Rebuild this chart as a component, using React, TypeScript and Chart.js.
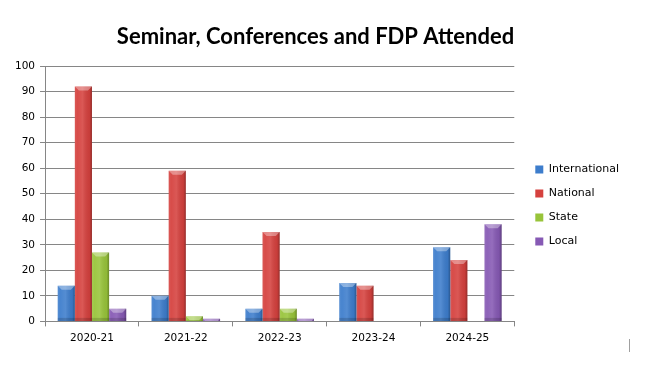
import React, { useEffect, useRef } from "react";
import { Chart, registerables } from "chart.js";

Chart.register(...registerables);

const categories = ["2020-21", "2021-22", "2022-23", "2023-24", "2024-25"];
const seriesNames = ["International", "National", "State", "Local"];
const international = [14, 10, 5, 15, 29];
const national = [92, 59, 35, 14, 24];
const state = [27, 2, 5, 0, 0];
const local = [5, 1, 1, 0, 38];
const seriesColors = ["#3D7DCC", "#D5413E", "#98C43A", "#8659B4"];
const yTicks = [0, 10, 20, 30, 40, 50, 60, 70, 80, 90, 100];

const bevelPlugin = {
  id: "bevel",
  afterDatasetsDraw(chart: any) {
    const ctx = chart.ctx;
    chart.data.datasets.forEach((_ds: any, i: number) => {
      const meta = chart.getDatasetMeta(i);
      meta.data.forEach((bar: any) => {
        const { x, y, base, width } = bar.getProps(["x", "y", "base", "width"], true);
        const h = base - y;
        if (h <= 0.5) return;
        const l = x - width / 2;
        ctx.save();
        const g = ctx.createLinearGradient(l, 0, l + width, 0);
        g.addColorStop(0, "rgba(255,255,255,0.12)");
        g.addColorStop(0.15, "rgba(255,255,255,0.06)");
        g.addColorStop(0.45, "rgba(255,255,255,0.12)");
        g.addColorStop(0.85, "rgba(0,0,0,0.06)");
        g.addColorStop(1, "rgba(0,0,0,0.3)");
        ctx.fillStyle = g;
        ctx.fillRect(l, y, width, h);
        const cap = Math.min(4, h);
        ctx.fillStyle = "rgba(255,255,255,0.35)";
        ctx.beginPath();
        ctx.moveTo(l, y);
        ctx.lineTo(l + width, y);
        ctx.lineTo(l + width - cap, y + cap);
        ctx.lineTo(l + cap, y + cap);
        ctx.closePath();
        ctx.fill();
        const bot = Math.min(3, h - cap);
        if (bot > 0) {
          ctx.fillStyle = "rgba(0,0,0,0.15)";
          ctx.fillRect(l, base - bot, width, bot);
        }
        ctx.restore();
      });
    });
  },
};

// nudge the library's legend box to the reference's place
const legendShiftPlugin = {
  id: "legendShift",
  afterLayout(chart: any) {
    const lg = chart.legend;
    if (!lg) return;
    lg.left += 8;
    lg.right += 8;
    lg.top += 30;
    lg.bottom += 30;
  },
};

// small stray separator mark at the lower right of the reference picture
const cornerMarkPlugin = {
  id: "cornerMark",
  afterDraw(chart: any) {
    const ctx = chart.ctx;
    ctx.save();
    ctx.strokeStyle = "#A0A0A0";
    ctx.lineWidth = 1;
    ctx.beginPath();
    ctx.moveTo(chart.width - 20.5, chart.height - 26);
    ctx.lineTo(chart.width - 20.5, chart.height - 13);
    ctx.stroke();
    ctx.restore();
  },
};

export default function App() {
  const ref = useRef<HTMLCanvasElement>(null);
  useEffect(() => {
    if (!ref.current) return;
    const values = [international, national, state, local];
    const chart = new Chart(ref.current, {
      type: "bar",
      data: {
        labels: categories,
        datasets: seriesNames.map((name, i) => ({
          label: name,
          data: values[i],
          backgroundColor: seriesColors[i],
          borderWidth: 0,
          barPercentage: 1,
          categoryPercentage: 0.73,
        })),
      },
      options: {
        animation: false,
        responsive: true,
        maintainAspectRatio: false,
        layout: { padding: { left: 10, right: 29, bottom: 14, top: 0 } },
        plugins: {
          title: {
            display: true,
            text: "Seminar, Conferences and FDP Attended",
            color: "#000",
            font: { family: "Lato", size: 22, weight: "bold" },
            padding: { top: 24, bottom: 15.6 },
          },
          legend: {
            position: "right",
            labels: {
              boxWidth: 8,
              boxHeight: 8,
              padding: 13,
              color: "#000",
              font: { family: "DejaVu Sans", size: 11 },
            },
          },
          tooltip: { enabled: false },
        },
        scales: {
          x: {
            grid: {
              display: true,
              drawOnChartArea: false,
              drawTicks: true,
              tickLength: 5,
              color: "#868686",
              offset: true,
            },
            border: { display: true, color: "#868686" },
            ticks: { color: "#000", font: { family: "DejaVu Sans", size: 10.5 }, padding: 6 },
          },
          y: {
            min: 0,
            max: 100,
            afterBuildTicks(scale: any) {
              scale.ticks = yTicks.map((v) => ({ value: v }));
            },
            grid: { color: "#868686", tickLength: 5, drawTicks: true },
            border: { display: true, color: "#868686" },
            ticks: { color: "#000", font: { family: "DejaVu Sans", size: 10.5 }, padding: 5 },
          },
        },
      },
      plugins: [bevelPlugin, legendShiftPlugin, cornerMarkPlugin],
    });
    return () => chart.destroy();
  }, []);
  return (
    <div style={{ position: "absolute", left: 0, top: 0, width: 650, height: 365, background: "#fff" }}>
      <canvas ref={ref} />
    </div>
  );
}
